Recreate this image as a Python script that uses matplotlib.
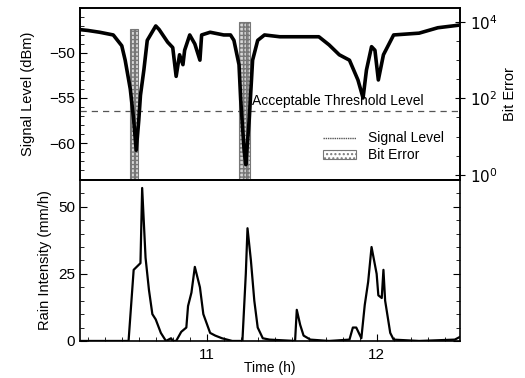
import matplotlib.pyplot as plt
from matplotlib.lines import Line2D
from matplotlib.patches import Patch
from matplotlib.ticker import MultipleLocator, FixedLocator, NullFormatter

plt.rcParams['font.family'] = ['Liberation Sans', 'DejaVu Sans']

# signal level (dBm)
sig_t = [10.25, 10.30, 10.37, 10.45, 10.50, 10.52, 10.55, 10.57, 10.585, 10.60, 10.61,
         10.63, 10.65, 10.70, 10.72, 10.77, 10.80, 10.82, 10.84, 10.86, 10.87, 10.90,
         10.93, 10.96, 10.97, 11.02, 11.10, 11.14, 11.16, 11.19, 11.20, 11.22, 11.23,
         11.25, 11.27, 11.30, 11.34, 11.43, 11.55, 11.66, 11.72, 11.78, 11.84, 11.89,
         11.92, 11.94, 11.97, 11.99, 12.01, 12.04, 12.10, 12.25, 12.36, 12.49]
sig_db = [-47.4, -47.5, -47.7, -48.0, -49.2, -50.8, -54.0, -57.4, -60.8, -57.5, -54.7,
          -51.9, -48.6, -47.0, -47.4, -48.8, -49.4, -52.6, -50.2, -51.3, -49.7, -48.0,
          -49.0, -50.8, -48.0, -47.7, -48.0, -48.0, -48.6, -51.3, -55.2, -60.8, -62.4,
          -57.4, -50.8, -48.6, -48.0, -48.2, -48.2, -48.2, -49.1, -50.2, -50.8, -53.0,
          -55.0, -51.9, -49.3, -49.7, -53.0, -50.2, -48.0, -47.8, -47.2, -46.9]

threshold = -56.4

# bit error bursts
be_t = [10.558, 10.582, 11.200, 11.222, 11.244]
be_w = [0.024, 0.024, 0.022, 0.022, 0.022]
be_val = [6600, 6600, 10000, 10000, 10000]

# rain intensity (mm/h)
rain_t = [10.25, 10.54, 10.57, 10.61, 10.62, 10.64, 10.66, 10.68, 10.70, 10.73, 10.76,
          10.79, 10.80, 10.82, 10.85, 10.88, 10.89, 10.91, 10.93, 10.96, 10.98, 11.02,
          11.05, 11.09, 11.15, 11.21, 11.23, 11.24, 11.26, 11.28, 11.30, 11.33, 11.37,
          11.52, 11.53, 11.55, 11.57, 11.61, 11.72, 11.84, 11.86, 11.88, 11.91, 11.93,
          11.95, 11.97, 12.00, 12.01, 12.03, 12.04, 12.05, 12.08, 12.10, 12.25, 12.46,
          12.49]
rain = [0, 0, 26.5, 29, 57, 31, 19, 10, 8, 3, 0,
        1, 0, 0, 3.4, 5, 13, 18, 27.6, 20, 10, 3,
        2, 1, 0, 0, 25, 42, 30, 15, 5, 1, 0.5,
        0, 11.6, 6, 2, 0.5, 0, 0.5, 5, 5, 1, 13.4,
        22, 35, 25, 17, 16, 26.5, 15, 3, 0.5, 0, 0.5,
        1.5]

fig = plt.figure(figsize=(5.25, 3.78), dpi=100)
ax1 = fig.add_axes([0.152, 0.524, 0.724, 0.455])
ax2 = fig.add_axes([0.152, 0.098, 0.724, 0.426], sharex=ax1)

ax1.plot(sig_t, sig_db, color='black', lw=2.6, zorder=3)
ax1.axhline(threshold, color='#555555', ls=(0, (5, 4)), lw=0.9)
ax1.text(11.265, threshold + 0.25, 'Acceptable Threshold Level', fontsize=10,
         ha='left', va='bottom')
ax1.set_ylim(-64.1, -45)
ax1.set_xlim(10.253, 12.49)
ax1.set_yticks([-50, -55, -60])
ax1.yaxis.set_minor_locator(MultipleLocator(1))
ax1.set_ylabel('Signal Level (dBm)', fontsize=10.5, labelpad=10)
ax1.tick_params(axis='x', which='both', bottom=False, labelbottom=False)
ax1.tick_params(axis='y', which='both', direction='in', labelsize=11)
ax1.tick_params(axis='y', which='major', length=5)
ax1.tick_params(axis='y', which='minor', length=3)

axb = ax1.twinx()
axb.set_yscale('log')
axb.bar(be_t, [v - 0.74 for v in be_val], width=be_w, bottom=0.74, align='center',
        facecolor='#d8d8d8', edgecolor='#777777', hatch='++++', lw=0.8, zorder=1)
axb.set_ylim(0.74, 23000)
axb.yaxis.set_major_locator(FixedLocator([1, 100, 10000]))
axb.yaxis.set_minor_locator(FixedLocator([10 ** (k / 2) for k in range(-1, 10)]))
axb.yaxis.set_minor_formatter(NullFormatter())
axb.set_yticklabels(['$10^0$', '$10^2$', '$10^4$'])
axb.tick_params(axis='y', which='major', direction='inout', length=7, labelsize=11)
axb.tick_params(axis='y', which='minor', direction='in', length=3)
axb.set_ylabel('Bit Error', fontsize=10.5, labelpad=4)
ax1.set_zorder(axb.get_zorder() + 1)
ax1.patch.set_visible(False)

handles = [Line2D([], [], color='#555555', lw=1, ls=(0, (1, 0.6))),
           Patch(facecolor='white', edgecolor='#777777', hatch='....', lw=0.8)]
ax1.legend(handles, ['Signal Level', 'Bit Error'], loc='lower right',
           bbox_to_anchor=(0.99, 0.03), frameon=False, fontsize=10,
           handlelength=2.4, handleheight=0.7, labelspacing=0.2)

ax2.plot(rain_t, rain, color='black', lw=1.6)
ax2.set_ylim(0, 60)
ax2.set_yticks([0, 25, 50])
ax2.yaxis.set_minor_locator(MultipleLocator(5))
ax2.set_xticks([11, 12])
ax2.xaxis.set_minor_locator(MultipleLocator(0.1))
ax2.set_ylabel('Rain Intensity (mm/h)', fontsize=10.5)
ax2.set_xlabel('Time (h)', fontsize=10)
ax2.xaxis.set_label_coords(0.5, -0.125)
ax2.tick_params(which='both', direction='in', right=True, labelsize=11)
ax2.tick_params(axis='x', which='major', pad=5)
ax2.tick_params(which='major', length=5)
ax2.tick_params(which='minor', length=3)

for a in (ax1, ax2, axb):
    for s in a.spines.values():
        s.set_linewidth(1.2)

fig.align_ylabels([ax1, ax2])
fig.savefig('out.png', dpi=100)
